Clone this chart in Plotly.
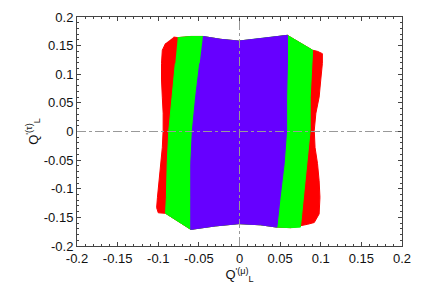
import plotly.graph_objects as go

# Region boundaries (data coordinates)
red_x = [-0.081, -0.076, -0.060, -0.045, -0.023, -0.001, 0.026, 0.059, 0.090, 0.096, 0.102,
         0.102, 0.100, 0.098, 0.094, 0.092, 0.093, 0.096, 0.098, 0.099, 0.098, 0.092, 0.084,
         0.076, 0.063, 0.046, 0.026, -0.001, -0.030, -0.060, -0.091, -0.100, -0.102, -0.101,
         -0.099, -0.097, -0.095, -0.094, -0.094, -0.095, -0.096, -0.096, -0.095, -0.091]
red_y = [0.165, 0.164, 0.166, 0.166, 0.161, 0.158, 0.162, 0.168, 0.142, 0.140, 0.136,
         0.119, 0.090, 0.060, 0.032, 0.002, -0.028, -0.056, -0.086, -0.115, -0.144, -0.159, -0.162,
         -0.164, -0.168, -0.167, -0.163, -0.161, -0.165, -0.171, -0.143, -0.142, -0.133, -0.115,
         -0.086, -0.056, -0.028, 0.002, 0.032, 0.060, 0.090, 0.119, 0.142, 0.154]

green_x = [-0.076, -0.060, -0.045, -0.023, -0.001, 0.026, 0.059, 0.090, 0.089, 0.087, 0.087,
           0.083, 0.079, 0.076, 0.075, 0.063, 0.046, 0.026, -0.001, -0.030, -0.060, -0.091,
           -0.090, -0.089, -0.087, -0.083, -0.079]
green_y = [0.164, 0.166, 0.166, 0.161, 0.158, 0.162, 0.168, 0.142, 0.119, 0.060, 0.002,
           -0.056, -0.115, -0.162, -0.167, -0.168, -0.167, -0.163, -0.161, -0.165, -0.171, -0.143,
           -0.115, -0.056, 0.002, 0.060, 0.119]

purple_x = [-0.045, -0.023, -0.001, 0.026, 0.059, 0.059, 0.058, 0.058, 0.055, 0.050, 0.046,
            0.046, 0.026, -0.001, -0.030, -0.060, -0.060, -0.060, -0.058, -0.054, -0.049]
purple_y = [0.166, 0.161, 0.158, 0.162, 0.168, 0.119, 0.060, 0.002, -0.056, -0.115, -0.164,
            -0.167, -0.163, -0.161, -0.165, -0.171, -0.115, -0.056, 0.002, 0.060, 0.119]

tick_vals = [-0.2, -0.15, -0.1, -0.05, 0, 0.05, 0.1, 0.15, 0.2]
tick_text = ["-0.2", "-0.15", "-0.1", "-0.05", "0", "0.05", "0.1", "0.15", "0.2"]

fig = go.Figure()
for xs, ys, col in [(red_x, red_y, "#ff0000"), (green_x, green_y, "#00ff00"),
                    (purple_x, purple_y, "#6600ff")]:
    fig.add_trace(go.Scatter(x=xs, y=ys, fill="toself", fillcolor=col, mode="lines",
                             line=dict(color=col, width=1), hoverinfo="skip", showlegend=False))

font_family = "Liberation Sans, Arial, Helvetica"
axis_common = dict(range=[-0.2, 0.2], tickvals=tick_vals, ticktext=tick_text,
                   ticks="inside", ticklen=4, tickwidth=1, tickcolor="#444",
                   showline=True, linecolor="#444", linewidth=1, mirror="allticks",
                   showgrid=False, zeroline=False,
                   minor=dict(dtick=0.01, ticks="inside", ticklen=2, tickcolor="#444", showgrid=False),
                   tickfont=dict(family=font_family, size=13, color="#111"))

fig.update_xaxes(**axis_common, title=dict(text="Q<sup>'(μ)</sup><sub>L</sub>", standoff=2,
                 font=dict(family=font_family, size=13, color="#111")))
fig.update_yaxes(**axis_common, title=dict(text="Q<sup>'(τ)</sup><sub>L</sub>", standoff=2,
                 font=dict(family=font_family, size=13, color="#111")))

fig.add_shape(type="line", x0=0, x1=0, y0=-0.2, y1=0.2, xref="x", yref="y",
              line=dict(color="#999", width=1, dash="dashdot"), layer="above")
fig.add_shape(type="line", x0=-0.2, x1=0.2, y0=0, y1=0, xref="x", yref="y",
              line=dict(color="#999", width=1, dash="dashdot"), layer="above")

fig.update_layout(width=423, height=297, margin=dict(l=69, r=29, t=9, b=59, autoexpand=False),
                  paper_bgcolor="white", plot_bgcolor="white")

fig.write_html("out.html")
